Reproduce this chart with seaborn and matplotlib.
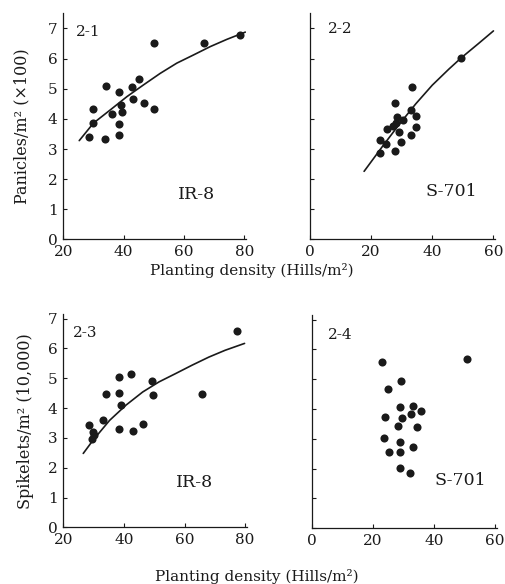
import matplotlib
matplotlib.use("Agg")
import matplotlib.pyplot as plt
import seaborn as sns

# panel 2-1: IR-8, panicles
ir8_pan_x = [28.4, 29.7, 29.9, 33.8, 34.1, 36.3, 38.6, 38.6, 38.6, 39.1, 39.3,
             42.7, 43.0, 45.1, 46.8, 49.9, 50.2, 66.6, 78.5]
ir8_pan_y = [3.39, 4.34, 3.86, 3.32, 5.10, 4.17, 4.88, 3.84, 3.46, 4.46, 4.24,
             5.07, 4.66, 5.33, 4.52, 4.32, 6.52, 6.52, 6.77]
ir8_pan_fit_x = [25.3, 30.0, 35.6, 41.1, 46.6, 52.1, 57.6, 63.1, 68.7, 74.2, 80.3]
ir8_pan_fit_y = [3.28, 3.86, 4.30, 4.74, 5.13, 5.51, 5.85, 6.12, 6.40, 6.64, 6.88]

# panel 2-2: S-701, panicles
s701_pan_x = [49.3, 33.5, 27.7, 32.9, 34.6, 28.4, 30.3, 28.1, 27.0, 25.3, 29.0,
              34.6, 23.0, 24.9, 29.8, 33.2, 23.0, 27.8]
s701_pan_y = [6.01, 5.06, 4.52, 4.28, 4.09, 4.06, 3.98, 3.85, 3.76, 3.66, 3.57,
              3.74, 3.30, 3.17, 3.24, 3.45, 2.86, 2.95]
s701_pan_fit_x = [17.7, 23.8, 29.2, 34.6, 40.0, 45.4, 49.4, 55.1, 60.0]
s701_pan_fit_y = [2.26, 3.10, 3.82, 4.50, 5.12, 5.65, 6.02, 6.50, 6.92]

# panel 2-3: IR-8, spikelets
ir8_spk_x = [77.2, 38.5, 42.4, 49.2, 34.2, 38.5, 49.7, 65.8, 39.1, 33.1, 28.4,
             46.2, 38.3, 43.1, 29.8, 30.0, 29.6]
ir8_spk_y = [6.58, 5.04, 5.13, 4.90, 4.46, 4.51, 4.43, 4.46, 4.10, 3.59, 3.43,
             3.48, 3.31, 3.24, 3.20, 3.09, 2.98]
ir8_spk_fit_x = [26.6, 29.8, 35.3, 40.7, 46.2, 51.6, 57.1, 62.5, 68.0, 73.4, 79.8]
ir8_spk_fit_y = [2.48, 2.92, 3.59, 4.10, 4.54, 4.88, 5.16, 5.44, 5.71, 5.94, 6.17]

# panel 2-4: S-701, spikelets (no fit)
s701_spk_x = [23.0, 50.8, 29.2, 25.1, 29.0, 33.0, 35.7, 32.4, 24.1, 29.5, 28.1,
              34.6, 23.8, 29.0, 33.0, 25.2, 28.9, 28.9, 32.3]
s701_spk_y = [5.57, 5.67, 4.93, 4.66, 4.08, 4.11, 3.95, 3.84, 3.72, 3.69, 3.43,
              3.41, 3.04, 2.91, 2.74, 2.55, 2.55, 2.03, 1.87]

ir8_ticks = [20, 40, 60, 80]
s701_ticks = [0, 20, 40, 60]
y_ticks = [0, 1, 2, 3, 4, 5, 6, 7]

sns.set_style("ticks")
plt.rcParams["font.family"] = ["DejaVu Serif"]
ink = "#1a1a1a"

fig = plt.figure(figsize=(5.06, 5.84), dpi=100)
ax1 = fig.add_axes([0.125, 0.590, 0.361, 0.387])
ax2 = fig.add_axes([0.6126, 0.590, 0.3656, 0.387])
ax3 = fig.add_axes([0.125, 0.097, 0.3625, 0.365])
ax4 = fig.add_axes([0.616, 0.0954, 0.3656, 0.365])

panels = [
    (ax1, ir8_pan_x, ir8_pan_y, ir8_pan_fit_x, ir8_pan_fit_y),
    (ax2, s701_pan_x, s701_pan_y, s701_pan_fit_x, s701_pan_fit_y),
    (ax3, ir8_spk_x, ir8_spk_y, ir8_spk_fit_x, ir8_spk_fit_y),
    (ax4, s701_spk_x, s701_spk_y, None, None),
]

for ax, xs, ys, fx, fy in panels:
    sns.scatterplot(x=xs, y=ys, ax=ax, color=ink, s=34, edgecolor=ink, linewidth=0)
    if fx is not None:
        sns.lineplot(x=fx, y=fy, ax=ax, color=ink, linewidth=1.2)
    sns.despine(ax=ax)
    for sp in ax.spines.values():
        sp.set_linewidth(0.9)
        sp.set_color(ink)
    ax.tick_params(direction="in", length=3, width=0.8, colors=ink,
                   labelsize=11, pad=4)
    ax.set_yticks(y_ticks)

# x ranges and labels per variety
for ax in (ax1, ax3):
    ax.set_xlim(20, 80.5)
    ax.set_xticks(ir8_ticks)
for ax in (ax2, ax4):
    ax.set_xlim(0, 60.5)
    ax.set_xticks(s701_ticks)
    ax.set_yticklabels([])

ax1.set_ylim(0, 7.5)
ax2.set_ylim(0, 7.5)
ax3.set_ylim(0, 7.15)
ax4.set_ylim(0, 7.15)

# panel tags and variety names
tag_kw = dict(fontsize=11, ha="center", va="center", color=ink)
name_kw = dict(fontsize=12.5, ha="center", va="center", color=ink)
ax1.text(28.3, 6.9, "2-1", **tag_kw)
ax1.text(64, 1.5, "IR-8", **name_kw)
ax2.text(10, 6.97, "2-2", **tag_kw)
ax2.text(46.2, 1.6, "S-701", **name_kw)
ax3.text(27.1, 6.52, "2-3", **tag_kw)
ax3.text(63.4, 1.5, "IR-8", **name_kw)
ax4.text(9.5, 6.49, "2-4", **tag_kw)
ax4.text(48.6, 1.59, "S-701", **name_kw)

ax1.set_ylabel("Panicles/m² (×100)", fontsize=11.5, color=ink, labelpad=13)
ax3.set_ylabel("Spikelets/m² (10,000)", fontsize=11.5, color=ink, labelpad=10)

fig.text(0.498, 1 - 270 / 584, "Planting density (Hills/m²)", fontsize=11,
         ha="center", va="center", color=ink)
fig.text(0.508, 1 - 576 / 584, "Planting density (Hills/m²)", fontsize=11,
         ha="center", va="center", color=ink)

fig.savefig("out.png", dpi=100)
